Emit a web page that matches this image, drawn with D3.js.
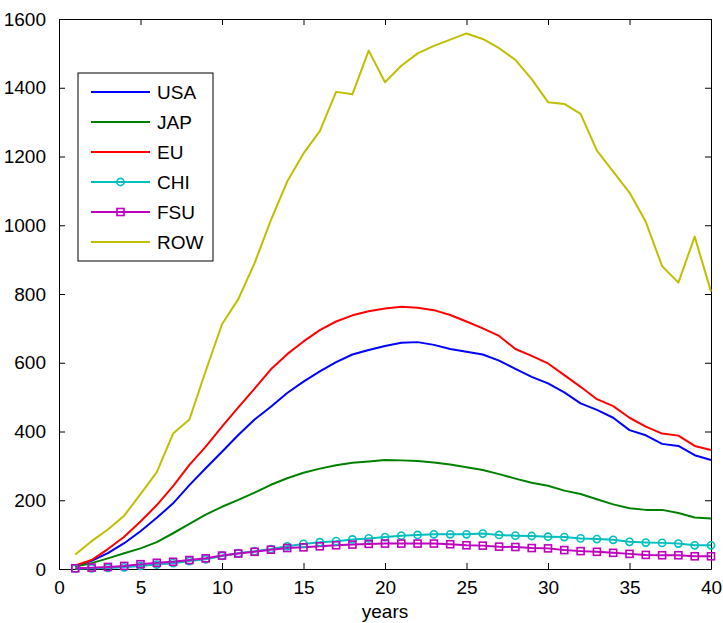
<!DOCTYPE html>
<html>
<head>
<meta charset="utf-8">
<script src="https://cdn.jsdelivr.net/npm/d3@7"></script>
<style>
  html, body { margin: 0; padding: 0; background: #fff; }
  svg { display: block; font-family: "Liberation Sans", Arial, Helvetica, sans-serif; }
</style>
</head>
<body>
<svg id="chart" width="723" height="623"></svg>
<script>
const years = d3.range(1, 41);
const seriesNames = ["USA", "JAP", "EU", "CHI", "FSU", "ROW"];
const USA = [8, 24, 46, 75, 110, 149, 191, 244, 293, 341, 390, 435, 472, 512, 545, 575, 602, 624, 637, 649, 658, 660, 652, 640, 632, 624, 606, 582, 559, 540, 514, 482, 463, 440, 404, 389, 364, 358, 331, 317];
const JAP = [7, 17, 31, 46, 60, 78, 104, 131, 158, 181, 201, 222, 245, 264, 280, 292, 302, 309, 313, 317, 316, 314, 310, 304, 296, 288, 276, 263, 251, 242, 228, 218, 203, 188, 177, 172, 172, 163, 150, 147];
const EU  = [10, 26, 58, 94, 138, 186, 241, 303, 356, 414, 470, 525, 581, 625, 662, 695, 720, 738, 750, 758, 763, 760, 753, 739, 720, 700, 678, 640, 620, 598, 564, 530, 494, 474, 440, 414, 394, 388, 358, 346];
const CHI = [1, 2, 3, 5, 9, 13, 17, 23, 28, 38, 46, 52, 58, 66, 73, 78, 81, 86, 89, 93, 97, 99, 101, 101, 101, 103, 99, 97, 96, 94, 93, 89, 87, 85, 79, 77, 76, 74, 69, 69];
const FSU = [2, 4, 6, 9, 14, 18, 21, 26, 31, 39, 45, 50, 56, 61, 63, 66, 69, 71, 73, 74, 74, 74, 74, 72, 69, 68, 65, 64, 61, 60, 55, 52, 50, 47, 44, 41, 40, 40, 37, 37];
const ROW = [42, 81, 115, 155, 218, 282, 394, 435, 576, 712, 785, 890, 1015, 1127, 1209, 1274, 1388, 1381, 1508, 1416, 1464, 1500, 1522, 1540, 1558, 1542, 1515, 1481, 1425, 1358, 1353, 1324, 1217, 1156, 1095, 1010, 881, 833, 967, 807];
const xTicks = [0, 5, 10, 15, 20, 25, 30, 35, 40];
const yTicks = [0, 200, 400, 600, 800, 1000, 1200, 1400, 1600];
const xLabel = "years";

const seriesData = [USA, JAP, EU, CHI, FSU, ROW];
const colors = ["#0000ff", "#008000", "#ff0000", "#00bfbf", "#bf00bf", "#bfbf00"];
const markers = [null, null, null, "circle", "square", null];

const margin = {left: 59, top: 19, right: 12, bottom: 54};
const W = 723, H = 623;
const pw = W - margin.left - margin.right;
const ph = H - margin.top - margin.bottom;

const svg = d3.select("#chart");
const g = svg.append("g").attr("transform", `translate(${margin.left},${margin.top})`);

const x = d3.scaleLinear().domain([0, 40]).range([0, pw]);
const y = d3.scaleLinear().domain([0, 1600]).range([ph, 0]);

const fs = "19px";
const tickLen = 6;

// Axes (ticks inward on all four sides)
const axB = g.append("g").attr("transform", `translate(0,${ph})`)
  .call(d3.axisBottom(x).tickValues(xTicks).tickFormat(d3.format("d")).tickSizeInner(-tickLen).tickSizeOuter(0).tickPadding(12));
const axT = g.append("g")
  .call(d3.axisTop(x).tickValues(xTicks).tickSizeInner(-tickLen).tickSizeOuter(0).tickFormat(""));
const axL = g.append("g")
  .call(d3.axisLeft(y).tickValues(yTicks).tickFormat(d3.format("d")).tickSizeInner(-tickLen).tickSizeOuter(0).tickPadding(13));
const axR = g.append("g").attr("transform", `translate(${pw},0)`)
  .call(d3.axisRight(y).tickValues(yTicks).tickSizeInner(-tickLen).tickSizeOuter(0).tickFormat(""));

[axB, axT, axL, axR].forEach(a => {
  a.select(".domain").attr("stroke", "#000").attr("stroke-width", 1);
  a.selectAll(".tick line").attr("stroke", "#000").attr("stroke-width", 1);
  a.selectAll(".tick text").attr("fill", "#000").style("font-size", fs)
    .style("font-family", '"Liberation Sans", Arial, sans-serif');
});

// Lines
const line = d3.line().x((d, i) => x(years[i])).y(d => y(d));
seriesData.forEach((s, k) => {
  g.append("path").datum(s)
    .attr("fill", "none").attr("stroke", colors[k]).attr("stroke-width", 2)
    .attr("stroke-linejoin", "round").attr("d", line);
});

function drawMarker(sel, type, cx, cy, color) {
  if (type === "circle") {
    sel.append("circle").attr("cx", cx).attr("cy", cy).attr("r", 3.6)
      .attr("fill", "none").attr("stroke", color).attr("stroke-width", 1.6);
  } else if (type === "square") {
    sel.append("rect").attr("x", cx - 3.5).attr("y", cy - 3.5).attr("width", 7).attr("height", 7)
      .attr("fill", "none").attr("stroke", color).attr("stroke-width", 1.6);
  }
}

// Markers (CHI first, then FSU over it)
seriesData.forEach((s, k) => {
  if (!markers[k]) return;
  const mg = g.append("g");
  s.forEach((v, i) => drawMarker(mg, markers[k], x(years[i]), y(v), colors[k]));
});

// x label
g.append("text").attr("x", pw / 2).attr("y", ph + 49).attr("text-anchor", "middle")
  .style("font-size", fs).attr("fill", "#000").text(xLabel);

// Legend
const lg = svg.append("g").attr("transform", "translate(78,73)");
lg.append("rect").attr("x", 0).attr("y", 0).attr("width", 135).attr("height", 188)
  .attr("fill", "#fff").attr("stroke", "#000").attr("stroke-width", 1);
seriesNames.forEach((name, k) => {
  const yy = 19 + k * 30;
  lg.append("line").attr("x1", 13).attr("x2", 72).attr("y1", yy).attr("y2", yy)
    .attr("stroke", colors[k]).attr("stroke-width", 2);
  if (markers[k]) drawMarker(lg, markers[k], 42.5, yy, colors[k]);
  lg.append("text").attr("x", 79).attr("y", yy).attr("dy", "0.35em")
    .style("font-size", fs).attr("fill", "#000").text(name);
});
</script>
</body>
</html>
